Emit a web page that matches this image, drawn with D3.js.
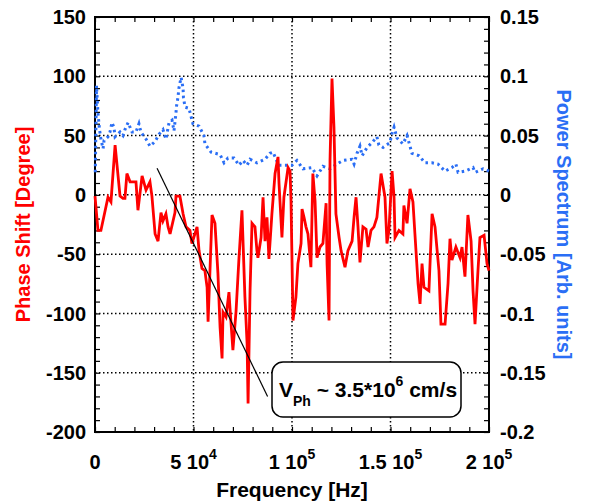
<!DOCTYPE html>
<html>
<head>
<meta charset="utf-8">
<script src="https://cdn.jsdelivr.net/npm/d3@7"></script>
<style>
  body { margin: 0; background: #fff; }
  text { font-family: Arial, "Liberation Sans", sans-serif; font-weight: bold; }
</style>
</head>
<body>
<div id="chart"></div>
<script>
// phase shift (red), frequency in kHz
const phaseFreq = [0, 1.5, 3.0, 6.6, 8.1, 10.2, 12.7, 14.2, 15.2, 16.2, 17.8, 20.8, 21.8, 23.9, 25.9, 27.9, 28.9,
  30.5, 32.0, 33.5, 34.5, 36.0, 37.1, 38.1, 40.6, 41.1, 43.1, 44.7, 46.2, 48.2, 49.2, 51.8, 52.8, 54.3, 55.8,
  56.9, 57.4, 59.4, 60.9, 62.4, 63.5, 64.5, 65.0, 66.5, 68.0, 68.5, 70.0, 71.6, 73.1, 74.6, 76.1, 77.2, 77.7,
  78.7, 79.7, 81.2, 82.2, 82.7, 84.3, 85.3, 86.3, 87.3, 88.3, 89.8, 91.4, 92.9, 93.4, 94.9, 95.9, 98.0, 99.0,
  99.5, 100.0, 100.5, 102.0, 103.0, 104.6, 105.1, 106.1, 107.1, 108.1, 109.6, 110.6, 111.7, 112.7, 114.2,
  115.7, 117.3, 117.8, 118.8, 119.3, 120.3, 121.3, 122.3, 123.9, 124.9, 126.9, 128.4, 130.5, 131.5, 132.5,
  133.5, 134.5, 136.0, 137.6, 138.6, 140.1, 141.6, 143.1, 145.2, 147.2, 148.2, 149.2, 150.8, 151.8, 152.3,
  154.3, 156.3, 156.8, 158.4, 159.9, 161.4, 162.4, 164.0, 165.0, 166.0, 167.0, 169.5, 171.1, 172.6, 174.6,
  175.6, 177.7, 179.2, 180.2, 181.2, 183.2, 185.3, 186.3, 187.8, 189.3, 190.9, 191.9, 192.9, 194.4, 195.4,
  197.5, 199.0, 200.0];
const phaseDeg = [-1, -30, -30, -2, -6, 42, -1, -3, -3, 18, 11, 11, -13, 16, 4, 11, -1,
  -33, -39, -15, -22, -16, -27, -33, -15, -1, -1, -16, -27, -30, -41, -27, -47, -62, -64,
  -78, -107, -17, -24, -66, -112, -138, -99, -103, -82, -95, -131, -98, -53, -13, -86, -125, -176,
  -81, -24, -27, -47, -53, -36, -2, -39, -19, -54, -16, 18, 32, 10, -36, -2, 23, 20,
  -5, -55, -106, -86, -58, -41, -12, -19, -27, -33, -61, 18, -5, -53, -44,
  -41, -7, -58, -106, 29, 98, 57, -16, -36, -47, -61, -47, -39, -19, -2,
  -27, -57, -27, -29, -44, -30, -27, -19, 18, -2, -41, -30, 20, -2, -36,
  -30, -33, -9, -24, 5, -6, -33, -75, -92, -58, -78, -81, -16, -27, -64,
  -109, -109, -75, -37, -55, -44, -53, -44, -69, -17, -39, -81, -109, -64, -36,
  -34, -58, -64];

// power spectrum (blue), frequency in kHz
const powerFreq = [0.15, 0.76, 1.5, 2.3, 3.0, 4.1, 4.6, 6.6, 7.6, 8.6, 9.6, 10.2, 12.7, 14.2, 15.2, 16.8, 18.8,
  20.8, 22.3, 23.3, 25.9, 27.9, 30.5, 32.5, 34.5, 36.0, 37.6, 39.1, 40.1, 41.1, 41.4, 42.1, 42.6, 43.7, 44.7,
  44.9, 45.7, 47.7, 49.7, 52.8, 55.3, 55.8, 58.9, 63.5, 65.5, 67.5, 70.6, 73.1, 75.1, 77.2, 78.7, 82.2, 86.3,
  88.8, 90.4, 91.9, 93.4, 95.4, 99.0, 100.0, 102.5, 105.6, 110.1, 112.7, 115.7, 119.3, 122.8, 125.9, 130.5,
  131.5, 133.0, 134.5, 135.6, 138.1, 140.6, 143.1, 144.1, 146.2, 149.7, 150.8, 151.8, 153.3, 156.3, 158.4,
  160.9, 164.5, 167.5, 171.1, 174.1, 177.7, 181.2, 183.2, 184.3, 187.8, 191.9, 192.9, 197.0, 200.0];
const powerVal = [0.019, 0.092, 0.069, 0.055, 0.047, 0.039, 0.046, 0.049, 0.053, 0.061, 0.057, 0.049, 0.053, 0.050, 0.055, 0.061, 0.053,
  0.053, 0.060, 0.053, 0.047, 0.041, 0.045, 0.051, 0.055, 0.047, 0.061, 0.063, 0.054, 0.069, 0.075, 0.082, 0.090, 0.099, 0.090,
  0.082, 0.074, 0.073, 0.060, 0.058, 0.050, 0.043, 0.036, 0.034, 0.027, 0.031, 0.031, 0.025, 0.029, 0.025, 0.030, 0.027, 0.030,
  0.035, 0.036, 0.030, 0.025, 0.025, 0.025, 0.025, 0.029, 0.022, 0.023, 0.016, 0.024, 0.022, 0.026, 0.029, 0.030,
  0.026, 0.035, 0.041, 0.033, 0.040, 0.044, 0.049, 0.042, 0.040, 0.044, 0.052, 0.057, 0.048, 0.043, 0.050,
  0.035, 0.033, 0.027, 0.027, 0.026, 0.020, 0.023, 0.026, 0.019, 0.020, 0.023, 0.019, 0.022, 0.020];

// fitted slope line endpoints [kHz, degree]
const fitLine = [[31.5, 22.5], [87.6, -170]];

const xTicks = [[0, "0", ""], [50000, "5 10", "4"], [100000, "1 10", "5"], [150000, "1.5 10", "5"], [200000, "2 10", "5"]];
const leftTicks = [150, 100, 50, 0, -50, -100, -150, -200];
const rightTicks = [0.15, 0.1, 0.05, 0, -0.05, -0.1, -0.15, -0.2];

const width = 589, height = 503;
const margin = { top: 17, left: 95, right: 100, bottom: 71 };
const red = "#ff0000", blue = "#2a6ef5";

const svg = d3.select("#chart").append("svg")
  .attr("width", width).attr("height", height);

const x = d3.scaleLinear().domain([0, 200000]).range([margin.left, width - margin.right]);
const yL = d3.scaleLinear().domain([-200, 150]).range([height - margin.bottom, margin.top]);
const yR = d3.scaleLinear().domain([-0.2, 0.15]).range([height - margin.bottom, margin.top]);
const x0 = x.range()[0], x1 = x.range()[1], y0 = yL.range()[0], y1 = yL.range()[1];

// dotted grid
svg.append("g").selectAll("line").data([50000, 100000, 150000]).join("line")
  .attr("x1", d => x(d)).attr("x2", d => x(d)).attr("y1", y1).attr("y2", y0)
  .attr("stroke", "#000").attr("stroke-width", 1.5).attr("stroke-dasharray", "1.5,2.5");
svg.append("g").selectAll("line").data([100, 50, 0, -50, -100, -150]).join("line")
  .attr("x1", x0).attr("x2", x1).attr("y1", d => yL(d)).attr("y2", d => yL(d))
  .attr("stroke", "#000").attr("stroke-width", 1.5).attr("stroke-dasharray", "1.5,2.5");

// minor + major ticks, pointing inward on all four sides
const minorX = d3.range(0, 200001, 10000), minorY = d3.range(-200, 151, 10);
function inward(axis, vals, size) {
  return axis.tickValues(vals).tickSize(size).tickFormat("");
}
svg.append("g").attr("transform", `translate(0,${y0})`).call(inward(d3.axisBottom(x), minorX, -5));
svg.append("g").attr("transform", `translate(0,${y1})`).call(inward(d3.axisTop(x), minorX, -5));
svg.append("g").attr("transform", `translate(${x0},0)`).call(inward(d3.axisLeft(yL), minorY, -5));
svg.append("g").attr("transform", `translate(${x1},0)`).call(inward(d3.axisRight(yL), minorY, -5));
svg.selectAll(".domain").remove();
svg.selectAll(".tick line").attr("stroke-width", 1.2);

// frame
svg.append("rect").attr("x", x0).attr("y", y1).attr("width", x1 - x0).attr("height", y0 - y1)
  .attr("fill", "none").attr("stroke", "#000").attr("stroke-width", 2);

// tick labels
svg.append("g").selectAll("text").data(leftTicks).join("text")
  .attr("x", x0 - 9).attr("y", d => yL(d)).attr("dy", "0.36em")
  .attr("text-anchor", "end").attr("font-size", 20).text(d => d);
svg.append("g").selectAll("text").data(rightTicks).join("text")
  .attr("x", x1 + 11).attr("y", d => yR(d)).attr("dy", "0.36em")
  .attr("font-size", 20).text(d => d);
const xl = svg.append("g").selectAll("text").data(xTicks).join("text")
  .attr("x", d => x(d[0])).attr("y", 469).attr("text-anchor", "middle").attr("font-size", 20);
xl.append("tspan").text(d => d[1]);
xl.append("tspan").attr("dy", -10).attr("font-size", 14).text(d => d[2]);

// axis titles
svg.append("text").attr("x", (x0 + x1) / 2).attr("y", 497).attr("text-anchor", "middle")
  .attr("font-size", 21).text("Frequency [Hz]");
svg.append("text").attr("transform", `translate(30,${(y0 + y1) / 2}) rotate(-90)`)
  .attr("text-anchor", "middle").attr("font-size", 20).attr("fill", red).text("Phase Shift [Degree]");
svg.append("text").attr("transform", `translate(557,${(y0 + y1) / 2}) rotate(90)`)
  .attr("text-anchor", "middle").attr("font-size", 20).attr("fill", blue).text("Power Spectrum [Arb. units]");

// power spectrum
const power = powerFreq.map((f, i) => [f * 1000, powerVal[i]]);
svg.append("path").datum(power)
  .attr("d", d3.line().x(d => x(d[0])).y(d => yR(d[1])))
  .attr("fill", "none").attr("stroke", blue).attr("stroke-width", 3)
  .attr("stroke-dasharray", "2.5,3.5");

// phase shift
const phase = phaseFreq.map((f, i) => [f * 1000, phaseDeg[i]]);
svg.append("path").datum(phase)
  .attr("d", d3.line().x(d => x(d[0])).y(d => yL(d[1])))
  .attr("fill", "none").attr("stroke", red).attr("stroke-width", 2.8).attr("stroke-linejoin", "miter");

// slope line
svg.append("line")
  .attr("x1", x(fitLine[0][0] * 1000)).attr("y1", yL(fitLine[0][1]))
  .attr("x2", x(fitLine[1][0] * 1000)).attr("y2", yL(fitLine[1][1]))
  .attr("stroke", "#000").attr("stroke-width", 1.2);

// annotation box
svg.append("rect").attr("x", 272).attr("y", 362).attr("width", 189).attr("height", 55)
  .attr("rx", 11).attr("fill", "#fff").attr("stroke", "#000").attr("stroke-width", 1.5);
const note = svg.append("text").attr("x", 279).attr("y", 397).attr("font-size", 21);
note.append("tspan").text("V");
note.append("tspan").attr("dy", 9).attr("font-size", 14).text("Ph");
note.append("tspan").attr("dy", -9).text(" ~ 3.5*10");
note.append("tspan").attr("dy", -11).attr("font-size", 14).text("6");
note.append("tspan").attr("dy", 11).text(" cm/s");
</script>
</body>
</html>
